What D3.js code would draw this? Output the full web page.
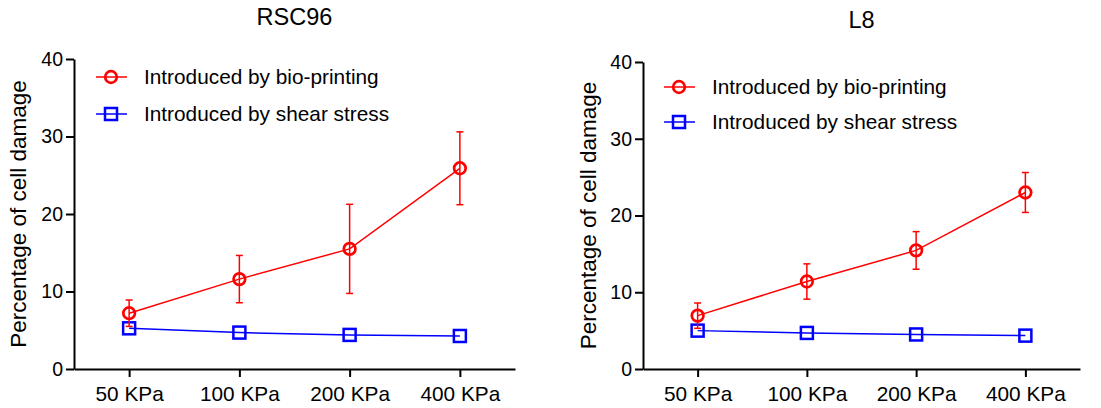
<!DOCTYPE html>
<html>
<head>
<meta charset="utf-8">
<style>
    body { margin: 0; background: white; }
    svg text { font-family: Arial, "Liberation Sans", Helvetica, sans-serif; fill: black; }
</style>
<script src="https://cdn.jsdelivr.net/npm/d3@7"></script>
</head>
<body>
<svg id="chart" width="1101" height="408"></svg>
<script>
// categories and values
let pressures = ["50 KPa", "100 KPa", "200 KPa", "400 KPa"];
let yTicks = [0, 10, 20, 30, 40];
let seriesNames = ["Introduced by bio-printing", "Introduced by shear stress"];

let rscPrinting = [7.2, 11.6, 15.5, 25.9];
let rscPrintingErr = [1.7, 3.05, 5.75, 4.7];
let rscShear = [5.25, 4.7, 4.4, 4.26];

let l8Printing = [6.95, 11.4, 15.45, 23.0];
let l8PrintingErr = [1.65, 2.3, 2.45, 2.6];
let l8Shear = [5.0, 4.7, 4.5, 4.35];

let svg = d3.select("#chart");

function drawPanel(cfg) {
    let g = svg.append("g");
    let x = d3.scalePoint().domain(pressures).range([cfg.left, cfg.right]).padding(0.5);
    let y = d3.scaleLinear().domain([0, 40]).range([cfg.bottom, cfg.top]);

    // axes
    let ax = g.append("g")
        .attr("transform", `translate(0,${cfg.bottom})`)
        .call(d3.axisBottom(x).tickSize(8).tickPadding(9).tickSizeOuter(0));
    ax.selectAll("text").style("font-size", "20.8px");
    let ay = g.append("g")
        .attr("transform", `translate(${cfg.left},0)`)
        .call(d3.axisLeft(y).tickValues(yTicks).tickSize(8).tickPadding(3).tickSizeOuter(0));
    ay.selectAll("text").style("font-size", "19.5px");
    g.selectAll(".domain, .tick line").attr("stroke", "black").attr("stroke-width", 2);

    // titles
    g.append("text")
        .attr("x", (cfg.left + cfg.right) / 2)
        .attr("y", cfg.titleY)
        .attr("text-anchor", "middle")
        .style("font-size", "23.5px")
        .text(cfg.title);
    g.append("text")
        .attr("transform", `translate(${cfg.labelX},${(cfg.top + cfg.bottom) / 2}) rotate(-90)`)
        .attr("text-anchor", "middle")
        .style("font-size", "22.5px")
        .text("Percentage of cell damage");

    let line = d3.line().x((d, i) => x(pressures[i])).y(d => y(d));

    // shear stress series (blue squares)
    g.append("path").datum(cfg.shear)
        .attr("d", line).attr("fill", "none").attr("stroke", "#0000ff").attr("stroke-width", 1.5);
    g.selectAll(".sq").data(cfg.shear).enter().append("rect")
        .attr("x", (d, i) => x(pressures[i]) - 6)
        .attr("y", d => y(d) - 6)
        .attr("width", 12).attr("height", 12)
        .attr("fill", "none").attr("stroke", "#0000ff").attr("stroke-width", 2.5);

    // bio-printing series (red circles with error bars)
    g.append("path").datum(cfg.printing)
        .attr("d", line).attr("fill", "none").attr("stroke", "#ff0000").attr("stroke-width", 1.5);
    g.selectAll(".pt").data(cfg.printing).enter().append("circle")
        .attr("cx", (d, i) => x(pressures[i]))
        .attr("cy", d => y(d))
        .attr("r", 5.8)
        .attr("fill", "none").attr("stroke", "#ff0000").attr("stroke-width", 2.7);
    let eb = g.selectAll(".eb").data(cfg.printing).enter().append("g")
        .attr("stroke", "#ff0000").attr("stroke-width", 1.5);
    eb.append("line")
        .attr("x1", (d, i) => x(pressures[i])).attr("x2", (d, i) => x(pressures[i]))
        .attr("y1", (d, i) => y(d + cfg.err[i])).attr("y2", (d, i) => y(d - cfg.err[i]));
    eb.append("line")
        .attr("x1", (d, i) => x(pressures[i]) - 3.5).attr("x2", (d, i) => x(pressures[i]) + 3.5)
        .attr("y1", (d, i) => y(d + cfg.err[i])).attr("y2", (d, i) => y(d + cfg.err[i]));
    eb.append("line")
        .attr("x1", (d, i) => x(pressures[i]) - 3.5).attr("x2", (d, i) => x(pressures[i]) + 3.5)
        .attr("y1", (d, i) => y(d - cfg.err[i])).attr("y2", (d, i) => y(d - cfg.err[i]));

    // legend
    let colors = ["#ff0000", "#0000ff"];
    seriesNames.forEach((name, i) => {
        let ly = cfg.legendY[i];
        let lg = g.append("g");
        lg.append("line")
            .attr("x1", cfg.legendX).attr("x2", cfg.legendX + 31)
            .attr("y1", ly).attr("y2", ly)
            .attr("stroke", colors[i]).attr("stroke-width", 1.5);
        if (i == 0) {
            lg.append("circle").attr("cx", cfg.legendX + 15).attr("cy", ly).attr("r", 5.8)
                .attr("fill", "none").attr("stroke", colors[i]).attr("stroke-width", 2.7);
        } else {
            lg.append("rect").attr("x", cfg.legendX + 9).attr("y", ly - 6).attr("width", 12).attr("height", 12)
                .attr("fill", "none").attr("stroke", colors[i]).attr("stroke-width", 2.5);
        }
        lg.append("text")
            .attr("x", cfg.legendX + 48).attr("y", ly + 7)
            .style("font-size", "20.8px")
            .text(name);
    });
}

drawPanel({
    title: "RSC96", left: 74, right: 515, top: 59, bottom: 369, titleY: 25, labelX: 26,
    legendX: 96, legendY: [77, 114],
    printing: rscPrinting, err: rscPrintingErr, shear: rscShear
});
drawPanel({
    title: "L8", left: 643, right: 1080, top: 62, bottom: 369, titleY: 28, labelX: 596,
    legendX: 664, legendY: [87, 122],
    printing: l8Printing, err: l8PrintingErr, shear: l8Shear
});
</script>
</body>
</html>
